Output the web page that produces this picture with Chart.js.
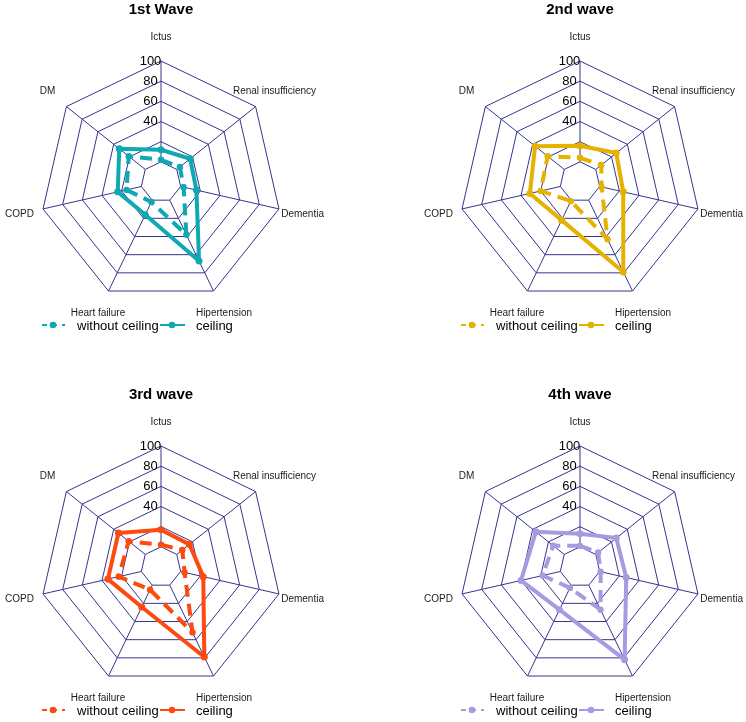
<!DOCTYPE html>
<html>
<head>
<meta charset="utf-8">
<script src="https://cdn.jsdelivr.net/npm/chart.js@4.4.1/dist/chart.umd.min.js"></script>
<style>
  html, body { margin: 0; padding: 0; background: #ffffff; }
  #wrap { position: relative; width: 746px; height: 722px; overflow: hidden; background: #ffffff; }
  canvas { position: absolute; }
</style>
</head>
<body>
<div id="wrap">
  <canvas id="c1" width="373" height="361" style="left:0px;top:0px"></canvas>
  <canvas id="c2" width="373" height="361" style="left:373px;top:0px"></canvas>
  <canvas id="c3" width="373" height="361" style="left:0px;top:361px"></canvas>
  <canvas id="c4" width="373" height="361" style="left:373px;top:361px"></canvas>
</div>
<script>
// ---- data ----
const categories = ["Ictus", "Renal insufficiency", "Dementia", "Hipertension", "Heart failure", "COPD", "DM"];
const waveTitles = ["1st Wave", "2nd wave", "3rd wave", "4th wave"];
const seriesNames = ["without ceiling", "ceiling"];
const tickLabels = [100, 80, 60, 40];

const wave1Ceiling   = [12, 17, 16, 67, 16, 24, 33];
const wave1NoCeiling = [2, 4, 3, 38, 2, 15, 21];
const wave2Ceiling   = [16, 26, 24, 79, 22, 31, 37];
const wave2NoCeiling = [4, 7, 2, 43, 1, 20, 21];
const wave3Ceiling   = [17, 16, 23, 79, 24, 34, 34];
const wave3NoCeiling = [2, 7, 4, 52, 5, 23, 21];
const wave4Ceiling   = [13, 26, 27, 82, 27, 40, 36];
const wave4NoCeiling = [1, 3, 1, 27, 3, 18, 14];

const waveColors = ["#0fa8b3", "#e5b200", "#fc4a10", "#a59be0"];

// ---- styling ----
const GRID = "#34348e";
const FONT = '"Liberation Sans", Arial, sans-serif';
const DASH = [12, 7];

const panels = [
  { id: "c1", noCeil: wave1NoCeiling, ceil: wave1Ceiling, pad: { left: 40, top: 61, right: 91, bottom: 58 } },
  { id: "c2", noCeil: wave2NoCeiling, ceil: wave2Ceiling, pad: { left: 86, top: 61, right: 45, bottom: 58 } },
  { id: "c3", noCeil: wave3NoCeiling, ceil: wave3Ceiling, pad: { left: 40, top: 85, right: 91, bottom: 34 } },
  { id: "c4", noCeil: wave4NoCeiling, ceil: wave4Ceiling, pad: { left: 86, top: 85, right: 45, bottom: 34 } }
];

const decor = {
  id: "decor",
  beforeDatasetsDraw(chart, args, opts) {
    const s = chart.scales.r;
    const ctx = chart.ctx;
    ctx.save();
    ctx.strokeStyle = GRID;
    ctx.lineWidth = 1;
    for (let i = 0; i < categories.length; i++) {
      const a = s.getPointPositionForValue(i, 0);
      const b = s.getPointPositionForValue(i, 100);
      ctx.beginPath();
      ctx.moveTo(a.x, a.y);
      ctx.lineTo(b.x, b.y);
      ctx.stroke();
    }
    ctx.restore();
  },
  afterDraw(chart, args, opts) {
    const s = chart.scales.r;
    const ctx = chart.ctx;
    const R = s.drawingArea;
    const cx = s.xCenter, cy = s.yCenter;
    ctx.save();
    // tick labels
    ctx.fillStyle = "#000000";
    ctx.font = "13px " + FONT;
    ctx.textAlign = "center";
    ctx.textBaseline = "middle";
    tickLabels.forEach(v => {
      const p = s.getPointPositionForValue(0, v);
      ctx.fillText(String(v), p.x - 10.5, p.y);
    });
    // point labels
    ctx.fillStyle = "#1a1a1a";
    ctx.font = "10px " + FONT;
    categories.forEach((c, i) => {
      const p = s.getPointPosition(i, R * 1.2);
      ctx.fillText(c, p.x, p.y);
    });
    // title
    ctx.fillStyle = "#000000";
    ctx.font = "bold 15px " + FONT;
    ctx.textBaseline = "alphabetic";
    ctx.fillText(opts.title, cx, cy - R - 47.5);
    // legend
    const ly = cy + 143;
    const col = opts.color;
    ctx.strokeStyle = col;
    ctx.fillStyle = col;
    ctx.lineWidth = 2;
    // dashed symbol
    ctx.setLineDash([5, 5]);
    ctx.beginPath();
    ctx.moveTo(cx - 119, ly);
    ctx.lineTo(cx - 96, ly);
    ctx.stroke();
    ctx.setLineDash([]);
    ctx.beginPath();
    ctx.arc(cx - 108, ly, 3.3, 0, Math.PI * 2);
    ctx.fill();
    // solid symbol
    ctx.beginPath();
    ctx.moveTo(cx - 1, ly);
    ctx.lineTo(cx + 24, ly);
    ctx.stroke();
    ctx.beginPath();
    ctx.arc(cx + 11, ly, 3.3, 0, Math.PI * 2);
    ctx.fill();
    ctx.fillStyle = "#000000";
    ctx.font = "13px " + FONT;
    ctx.textAlign = "left";
    ctx.textBaseline = "middle";
    ctx.fillText(seriesNames[0], cx - 84, ly + 1);
    ctx.fillText(seriesNames[1], cx + 35, ly + 1);
    ctx.restore();
  }
};

panels.forEach((p, k) => {
  const color = waveColors[k];
  new Chart(document.getElementById(p.id), {
    type: "radar",
    data: {
      labels: categories,
      datasets: [
        {
          label: seriesNames[0],
          data: p.noCeil,
          borderColor: color,
          backgroundColor: color,
          borderWidth: 4,
          borderDash: DASH,
          fill: false,
          pointRadius: 3.2,
          pointBorderWidth: 0,
          pointBackgroundColor: color
        },
        {
          label: seriesNames[1],
          data: p.ceil,
          borderColor: color,
          backgroundColor: color,
          borderWidth: 4,
          fill: false,
          pointRadius: 3.5,
          pointBorderWidth: 0,
          pointBackgroundColor: color
        }
      ]
    },
    options: {
      responsive: false,
      animation: false,
      devicePixelRatio: 1,
      layout: { padding: p.pad },
      elements: { line: { tension: 0, borderJoinStyle: "round" } },
      plugins: {
        legend: { display: false },
        title: { display: false },
        tooltip: { enabled: false },
        decor: { title: waveTitles[k], color: color }
      },
      scales: {
        r: {
          min: -20,
          max: 100,
          ticks: { stepSize: 20, display: false },
          pointLabels: { display: false },
          angleLines: { display: false },
          grid: { color: GRID, lineWidth: 1, circular: false }
        }
      }
    },
    plugins: [decor]
  });
});
</script>
</body>
</html>
